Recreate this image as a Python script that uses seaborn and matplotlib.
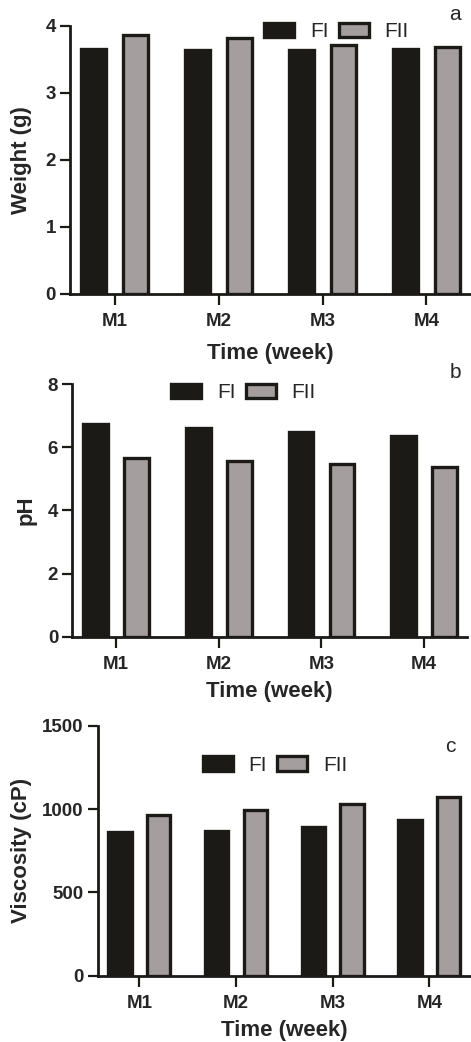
import pandas as pd
import matplotlib
matplotlib.use('Agg')
import matplotlib.pyplot as plt
import seaborn as sns

# Values
weeks = ['M1', 'M2', 'M3', 'M4']
weight_FI = [3.65, 3.64, 3.64, 3.65]
weight_FII = [3.86, 3.82, 3.71, 3.68]
ph_FI = [6.74, 6.63, 6.50, 6.36]
ph_FII = [5.66, 5.57, 5.47, 5.37]
visc_FI = [860, 868, 894, 934]
visc_FII = [965, 992, 1028, 1072]

sns.set_style('ticks')
plt.rcParams['font.family'] = ['Liberation Sans', 'DejaVu Sans']

dark = '#1b1a17'
grey = '#a59e9e'


def long_df(fi, fii):
    return pd.DataFrame({'week': weeks * 2,
                         'value': fi + fii,
                         'group': ['FI'] * 4 + ['FII'] * 4})


fig = plt.figure(figsize=(4.71, 10.42), dpi=100)

# axes rectangles in figure fractions
ax_a = fig.add_axes([0.1486, 0.7179, 0.8494, 0.2574])
ax_b = fig.add_axes([0.1530, 0.3890, 0.8386, 0.2422])
ax_c = fig.add_axes([0.2074, 0.0636, 0.7906, 0.2399])

panels = [
    (ax_a, weight_FI, weight_FII, 'Weight (g)', [0, 1, 2, 3, 4], 4,
     (0.666, 0.978), -0.095, -0.183, 'a', (455, 15)),
    (ax_b, ph_FI, ph_FII, 'pH', [0, 2, 4, 6, 8], 8,
     (0.434, 0.9655), -0.089, -0.176, 'b', (455, 373)),
    (ax_c, visc_FI, visc_FII, 'Viscosity (cP)', [0, 500, 1000, 1500], 1500,
     (0.476, 0.841), -0.176, -0.177, 'c', (450, 747)),
]

for ax, fi, fii, ylab, yt, ytop, leg_xy, ylx, xly, letter, lxy in panels:
    sns.barplot(data=long_df(fi, fii), x='week', y='value', hue='group',
                palette=[dark, grey], width=0.8, gap=0.4, saturation=1,
                edgecolor=dark, linewidth=2.4, ax=ax)
    ax.set_xlim(-0.43, 3.42)
    ax.set_ylim(0, ytop)
    ax.set_yticks(yt)
    sns.despine(ax=ax)
    for s in ['left', 'bottom']:
        ax.spines[s].set_linewidth(2.0)
        ax.spines[s].set_color(dark)
    ax.tick_params(axis='both', width=1.6, color=dark, labelsize=13.5)
    ax.tick_params(axis='x', length=8, pad=6)
    ax.tick_params(axis='y', length=7, pad=3)
    for t in ax.get_xticklabels() + ax.get_yticklabels():
        t.set_fontweight('bold')
    ax.set_xlabel('Time (week)', fontsize=16, fontweight='bold')
    ax.set_ylabel(ylab, fontsize=16, fontweight='bold')
    ax.yaxis.set_label_coords(ylx, 0.5)
    ax.xaxis.set_label_coords(0.5, xly)
    ax.legend(loc='center', bbox_to_anchor=leg_xy, ncol=2, frameon=False,
              fontsize=15, handlelength=1.45, handleheight=0.7,
              handletextpad=0.75, columnspacing=0.5, borderaxespad=0)
    fig.text(lxy[0] / 471, 1 - lxy[1] / 1042, letter, fontsize=15,
             ha='center', va='center')

plt.savefig('out.png', dpi=100)
